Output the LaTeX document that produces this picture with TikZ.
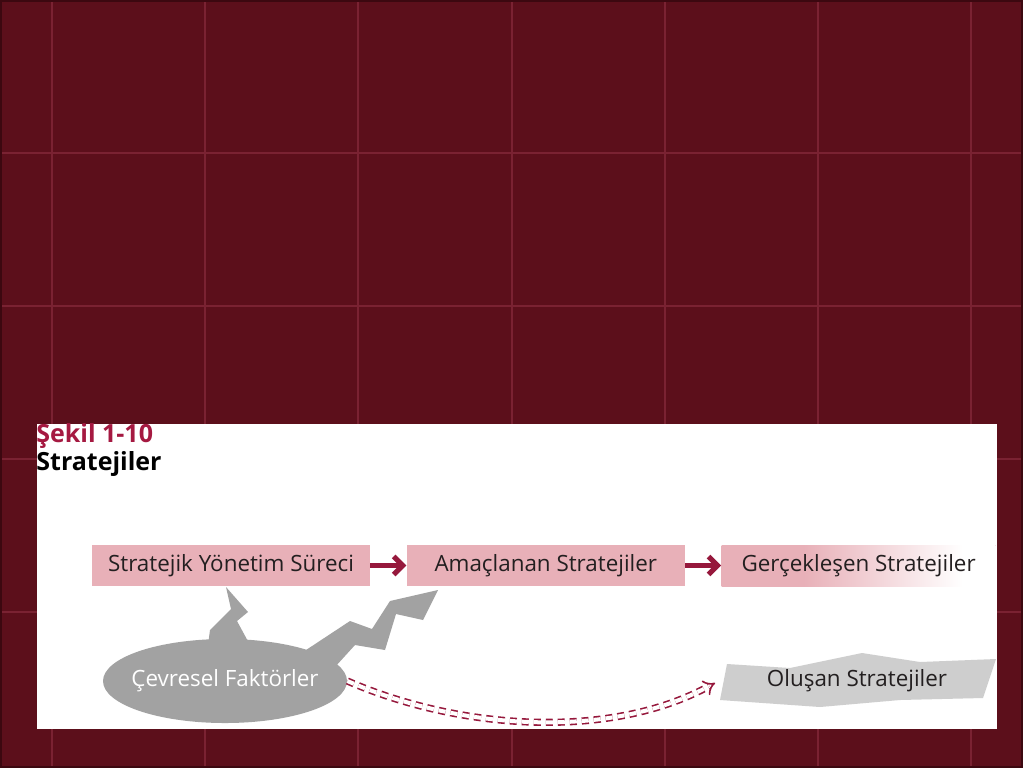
\documentclass[tikz,border=0pt]{standalone}
\usepackage{fontspec}
\setmainfont{Open Sans}
\usetikzlibrary{shapes.geometric, arrows.meta, positioning}
\definecolor{bgred}{RGB}{92,15,27}
\definecolor{bgdark}{RGB}{60,8,16}
\definecolor{gridred}{RGB}{122,34,50}
\definecolor{boxpink}{RGB}{232,176,184}
\definecolor{crimson}{RGB}{150,24,60}
\definecolor{titlered}{RGB}{165,25,65}
\definecolor{envgray}{RGB}{162,162,162}
\definecolor{emgray}{RGB}{206,206,206}
\definecolor{txt}{RGB}{35,31,32}
\pgfdeclarehorizontalshading{pinkfade}{100bp}{color(0bp)=(boxpink); color(40bp)=(boxpink); color(69bp)=(white); color(100bp)=(white)}
\tikzstyle{process} = [rectangle, minimum width=139pt, minimum height=20.5pt, text centered, fill=boxpink, text=txt, font=\fontsize{11.2}{13}\selectfont]
\tikzstyle{env} = [ellipse, minimum width=122pt, minimum height=42pt, inner xsep=-6pt, fill=envgray, text=white, font=\fontsize{11.2}{13}\selectfont]
\tikzstyle{arrow} = [line width=2.6pt, draw=crimson, -{Straight Barb[length=4.5pt,width=9pt]}]
\tikzstyle{dasharrow} = [draw=crimson, double=white, double distance=2pt, line width=0.8pt, dash pattern=on 3.5pt off 2.5pt, -{Implies}]

\begin{document}
\begin{tikzpicture}[x=0.5pt, y=-0.5pt, node distance=18pt]

    \useasboundingbox (0,0) rectangle (1023,768);
    % background grid
    \fill[bgred] (0,0) rectangle (1023,768);
    \foreach \gx in {52,205,358,512,665,818,971}
        \draw[gridred, line width=1pt] (\gx,0) -- (\gx,768);
    \foreach \gy in {153,306,459,612}
        \draw[gridred, line width=1pt] (0,\gy) -- (1023,\gy);
    \draw[bgdark, line width=1pt] (1,1) rectangle (1022,767);
    \fill[white] (37,424) rectangle (997,729);

    \node (fig) [anchor=base west, text=titlered, font=\fontsize{12.5}{14}\selectfont\bfseries, inner sep=0pt] at (36,442) {Şekil 1-10};
    \node (title) [anchor=base west, text=black, font=\fontsize{12.5}{14}\selectfont\bfseries, inner sep=0pt] at (36,470) {Stratejiler};

    \node (pro1) [process] at (231,565.5) {Stratejik Yönetim Süreci};
    \node (pro2) [process, right=of pro1] {Amaçlanan Stratejiler};
    \node (pro3) [process, right=of pro2, shading=pinkfade, minimum width=137pt] {Gerçekleşen Stratejiler};

    \draw [arrow] (pro1) -- (pro2);
    \draw [arrow] (pro2) -- (pro3);

    % lightning bolts
    \fill[envgray] (226,587) -- (248,612) -- (237,621) -- (250,645) -- (208,645) -- (210,630) -- (231,609) -- cycle;
    \fill[envgray] (438,590) -- (390,601) -- (372,629) -- (350,621) -- (303,652) -- (335,667) -- (355,645) -- (385,650) -- (396,614) -- (423,620) -- cycle;
    \node (envf) [env] at (225,681) {Çevresel Faktörler};

    \fill[emgray] (720,700) -- (727,664) -- (790,668) -- (862,653) -- (920,662) -- (996,659) -- (983,698) -- (900,700) -- (820,707) -- cycle;
    \node (emer) [minimum width=138pt, text=txt, font=\fontsize{11.2}{13}\selectfont] at (857,681) {Oluşan Stratejiler};

    \draw [dasharrow, shorten >=2pt] (envf.east) .. controls (460,730) and (610,740) .. (emer.west);

\end{tikzpicture}
\end{document}
